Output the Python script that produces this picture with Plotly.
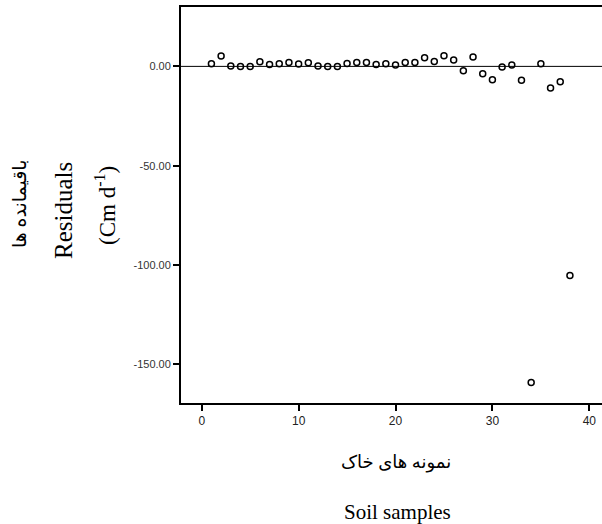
import plotly.graph_objects as go

samples = list(range(1, 39))
residuals = [1.3, 5.2, 0.2, 0.0, 0.0, 2.3, 1.0, 1.3, 2.0, 1.2,
             1.8, 0.2, 0.0, 0.0, 1.5, 2.0, 2.0, 1.0, 1.3, 0.7,
             2.0, 2.0, 4.4, 2.5, 5.4, 3.2, -2.2, 4.7, -3.7, -6.7,
             -0.3, 0.7, -7.0, -159.2, 1.3, -10.9, -7.7, -105.3]

x_ticks = [0, 10, 20, 30, 40]
y_ticks = [0, -50, -100, -150]
y_tick_text = ["0.00", "-50.00", "-100.00", "-150.00"]

x_title_fa = "نمونه های خاک"
x_title_en = "Soil samples"
y_title_fa = "باقیمانده ها"
y_title_en = "Residuals"
y_title_unit = "(Cm d<sup>-1</sup>)"

fig = go.Figure()
fig.add_trace(go.Scatter(
    x=samples, y=residuals, mode="markers",
    marker=dict(symbol="circle-open", size=6, color="black",
                line=dict(width=1.5, color="black")),
    showlegend=False, hoverinfo="x+y",
))

# reference line at zero
fig.add_shape(type="line", xref="paper", yref="y", x0=0, x1=1, y0=0, y1=0,
              line=dict(color="black", width=1))

L, T, W, H = 181, 7, 421, 396
serif = "Liberation Serif, DejaVu Serif, DejaVu Sans"

def pann(text, px, py, rot, size):
    return dict(text=text, xref="paper", yref="paper",
                x=(px - L) / W, y=1 - (py - T) / H, showarrow=False,
                xanchor="center", yanchor="middle", textangle=rot,
                font=dict(family=serif, size=size, color="black"))

fig.update_layout(
    width=602, height=524,
    margin=dict(l=L, r=0, t=T, b=524 - T - H),
    plot_bgcolor="white", paper_bgcolor="white",
    xaxis=dict(range=[-2.14, 41.31], tickvals=x_ticks, showgrid=False, zeroline=False,
               showline=True, linecolor="black", linewidth=2, mirror=True,
               ticks="outside", ticklen=6, tickwidth=1.5, tickcolor="black",
               tickfont=dict(family="Liberation Sans, Arial", size=12, color="#222222")),
    yaxis=dict(range=[-169.5, 29.9], tickvals=y_ticks, ticktext=y_tick_text,
               showgrid=False, zeroline=False,
               showline=True, linecolor="black", linewidth=2,
               ticks="outside", ticklen=6, tickwidth=2, tickcolor="black",
               tickfont=dict(family="Liberation Sans, Arial", size=11, color="#333333")),
    annotations=[
        pann(y_title_fa, 20, 204, -90, 19),
        pann(y_title_en, 63, 211, -90, 25),
        pann(y_title_unit, 106, 206, -90, 23),
        pann(x_title_fa, 396, 462, 0, 18),
        pann(x_title_en, 397, 512, 0, 21),
    ],
)

fig.write_html("out.html", config={"displayModeBar": False},
               post_script="document.body.style.margin='0';document.body.style.overflow='hidden';")
